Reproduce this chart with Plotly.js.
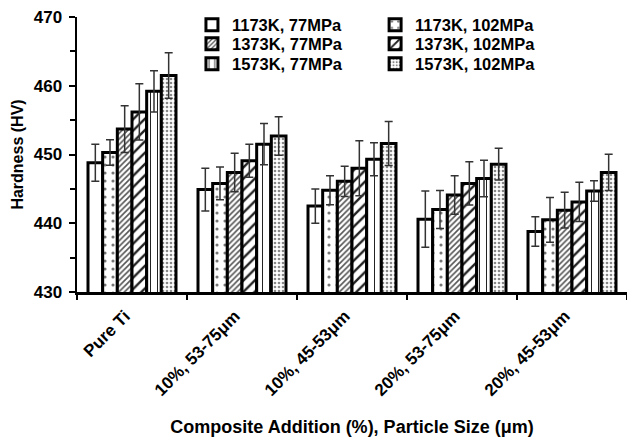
<!DOCTYPE html>
<html>
<head>
<meta charset="utf-8">
<script src="https://cdn.plot.ly/plotly-3.0.1.min.js"></script>
<style>html,body{margin:0;padding:0;background:#fff;}#chart{width:627px;height:439px;}</style>
</head>
<body>
<div id="chart"></div>
<script>
const categories = ["Pure Ti", "10%, 53-75μm", "10%, 45-53μm", "20%, 53-75μm", "20%, 45-53μm"];
const seriesNames = ["1173K, 77MPa", "1173K, 102MPa", "1373K, 77MPa", "1373K, 102MPa", "1573K, 77MPa", "1573K, 102MPa"];

const h1173_77  = [448.8, 444.9, 442.5, 440.6, 438.8];
const h1173_102 = [450.3, 445.8, 444.8, 442.0, 440.5];
const h1373_77  = [453.7, 447.4, 446.1, 444.1, 441.9];
const h1373_102 = [456.2, 449.1, 448.0, 445.8, 443.1];
const h1573_77  = [459.2, 451.5, 449.3, 446.5, 444.7];
const h1573_102 = [461.5, 452.7, 451.6, 448.6, 447.4];

const e1173_77  = [2.7, 3.1, 2.5, 4.1, 2.15];
const e1173_102 = [1.85, 2.4, 2.1, 2.75, 3.25];
const e1373_77  = [3.4, 2.8, 2.2, 2.8, 2.6];
const e1373_102 = [4.1, 2.4, 4.0, 3.15, 2.85];
const e1573_77  = [3.0, 3.0, 2.4, 2.65, 1.5];
const e1573_102 = [3.3, 2.8, 3.2, 2.3, 2.65];

const values = [h1173_77, h1173_102, h1373_77, h1373_102, h1573_77, h1573_102];
const errors = [e1173_77, e1173_102, e1373_77, e1373_102, e1573_77, e1573_102];

const patterns = [
  {shape: ""},
  {shape: ".", size: 8, solidity: 0.12, fgcolor: "#777", bgcolor: "#fff"},
  {shape: "/", size: 4, solidity: 0.4, fgcolor: "#555", bgcolor: "#fff"},
  {shape: "/", size: 8, solidity: 0.3, fgcolor: "#222", bgcolor: "#fff"},
  {shape: "|", size: 7, solidity: 0.15, fgcolor: "#222", bgcolor: "#fff"},
  {shape: ".", size: 4, solidity: 0.35, fgcolor: "#888", bgcolor: "#fff"}
];

const legendIds = ["legend", "legend2", "legend3", "legend4", "legend5", "legend6"];

const traces = seriesNames.map((name, i) => ({
  type: "bar",
  name: name,
  legend: legendIds[i],
  x: categories,
  y: values[i],
  marker: {color: "#fff", pattern: patterns[i], line: {color: "#000", width: 3}},
  error_y: {type: "data", array: errors[i], visible: true, color: "#333", thickness: 1.5, width: 4}
}));

const font = {family: "Liberation Sans, Arial, sans-serif", color: "#000"};
const legFont = {family: font.family, size: 16.5, color: "#000", weight: "bold"};
const legX = [0.209, 0.542];
const legY = [0.971, 0.902, 0.829];

const layout = {
  width: 627, height: 439,
  margin: {l: 77, r: 0, t: 17, b: 147, autoexpand: false},
  paper_bgcolor: "#fff", plot_bgcolor: "#fff",
  font: font,
  barmode: "group", bargap: 0.2, bargroupgap: 0,
  showlegend: true,
  xaxis: {
    type: "category",
    showline: true, linecolor: "#000", linewidth: 2.5,
    ticks: "outside", tickson: "boundaries", ticklen: 5, tickwidth: 2, tickcolor: "#000",
    tickangle: -45,
    ticklabelshift: -7, ticklabelstandoff: 5,
    tickfont: {family: font.family, size: 17, color: "#000", weight: "bold"},
    title: {text: "Composite Addition (%), Particle Size (μm)", font: {family: font.family, size: 18, color: "#000", weight: "bold"}, standoff: 22},
    showgrid: false, zeroline: false
  },
  yaxis: {
    range: [430, 470], dtick: 10, tick0: 430,
    showline: true, linecolor: "#000", linewidth: 2.5,
    ticks: "outside", ticklen: 6, tickwidth: 2, tickcolor: "#000",
    minor: {dtick: 5, ticks: "outside", ticklen: 5, tickwidth: 2, tickcolor: "#000"},
    tickfont: {family: font.family, size: 17, color: "#000", weight: "bold"},
    ticklabelstandoff: 3,
    title: {text: "Hardness (HV)", font: {family: font.family, size: 16, color: "#000", weight: "bold"}, standoff: 6},
    showgrid: false, zeroline: false
  }
};

legendIds.forEach((id, i) => {
  layout[id] = {
    x: legX[i % 2], y: legY[Math.floor(i / 2)], xanchor: "left", yanchor: "middle",
    font: legFont, bgcolor: "rgba(255,255,255,0)", borderwidth: 0
  };
});

Plotly.newPlot("chart", traces, layout, {displayModeBar: false, staticPlot: true});
</script>
</body>
</html>
